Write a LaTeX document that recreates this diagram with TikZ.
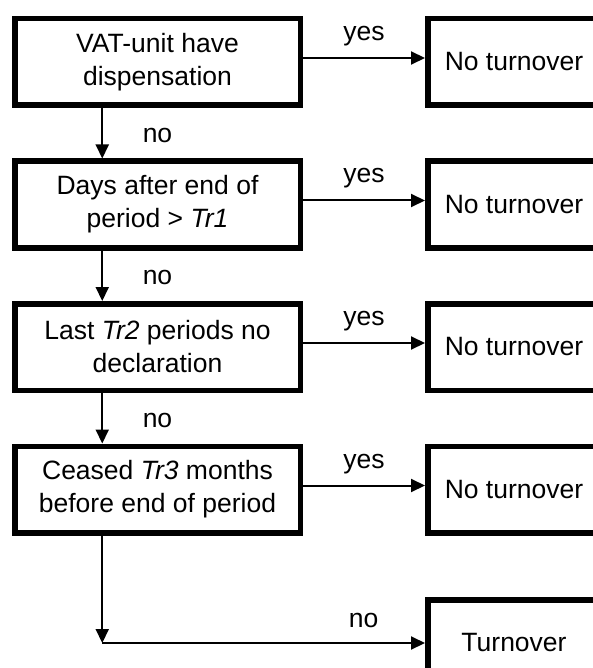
\documentclass[tikz,border=0pt]{standalone}
\usepackage{fontspec}
\setmainfont{Liberation Sans}
\usetikzlibrary{arrows.meta,calc}
\begin{document}
\begin{tikzpicture}[x=1pt,y=-1pt,
  box/.style={draw,line width=5.5pt,minimum width=285.5pt,minimum height=86.5pt,
    align=center,inner sep=0pt,font=\fontsize{26.5}{33}\selectfont},
  rbox/.style={box,minimum width=172.5pt},
  arr/.style={line width=2pt,-{Triangle[length=14pt,width=13pt]}},
  lab/.style={font=\fontsize{26.5}{31}\selectfont,inner sep=0pt}]
\useasboundingbox (0,0) rectangle (593,668);
\clip (0,0) rectangle (593,668);
% left decision boxes
\node[box] (b1) at (157.5,62)  {VAT-unit have\\dispensation};
\node[box] (b2) at (157.5,204.5) {Days after end of\\period > \textit{Tr1}};
\node[box] (b3) at (157.5,347) {Last \textit{Tr2} periods no\\declaration};
\node[box] (b4) at (157.5,489.5) {Ceased \textit{Tr3} months\\before end of period};
% right result boxes
\node[rbox] (n1) at (514,62) {No turnover};
\node[rbox] (n2) at (514,204.5) {No turnover};
\node[rbox] (n3) at (514,347) {No turnover};
\node[rbox] (n4) at (514,489.5) {No turnover};
\node[rbox] (t)  at (514,643) {Turnover};
% yes arrows
\foreach \i in {1,2,3,4}{
  \draw[arr] ([yshift=4pt]b\i.east) -- node[lab,above=11pt]{yes} ([yshift=4pt]b\i.east -| n\i.west);
}
% no arrows down
\coordinate (cx) at ($(b1.south west)+(90.25,0)$);
\foreach \i/\j in {1/2,2/3,3/4}{
  \draw[arr] (cx |- b\i.south) -- (cx |- b\j.north);
  \node[lab] at ($(b\i.south)!0.5!(b\j.north)+(0,2)$) {no};
}
\coordinate (c) at (cx |- t.west);
\draw[arr] (cx |- b4.south) -- (c);
\draw[arr] (c) -- node[lab,above=14pt,pos=0.81]{no} (t.west);
\end{tikzpicture}
\end{document}
